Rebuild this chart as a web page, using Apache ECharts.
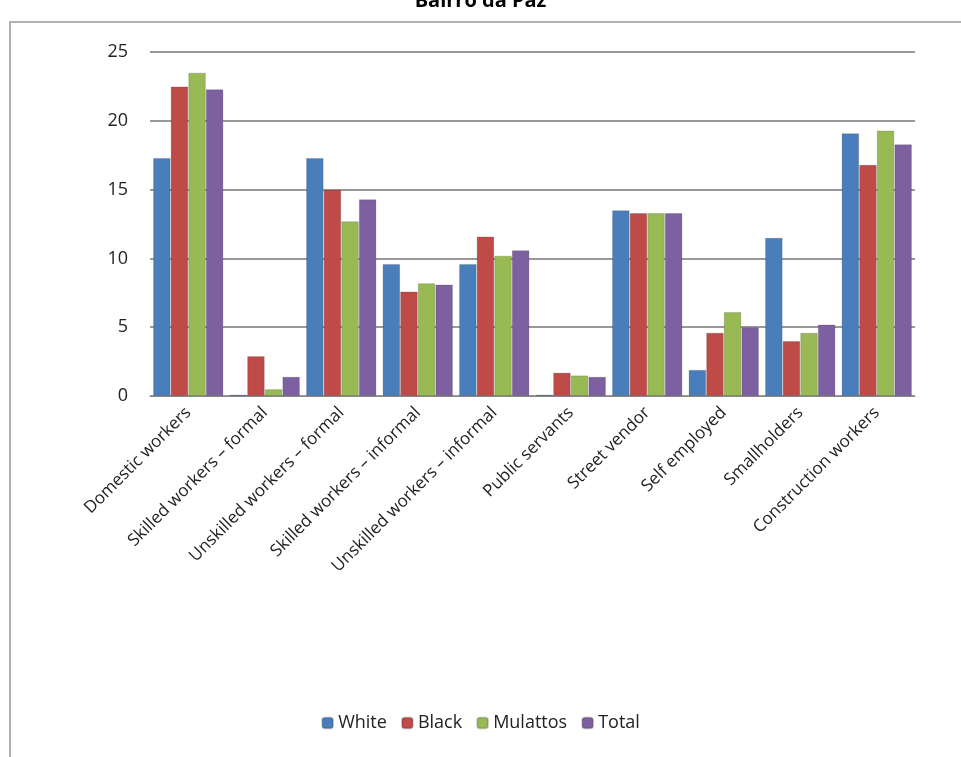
<!DOCTYPE html>
<html><head><meta charset="utf-8">
<script src="https://cdn.jsdelivr.net/npm/echarts@6/dist/echarts.min.js"></script>
<style>html,body{margin:0;padding:0;background:#fff}#main{width:961px;height:757px}</style>
</head><body><div id="main"></div>
<script>
var categories = ['Domestic workers', 'Skilled workers \u2013 formal', 'Unskilled workers \u2013 formal',
  'Skilled workers \u2013 informal', 'Unskilled workers \u2013 informal', 'Public servants',
  'Street vendor', 'Self employed', 'Smallholders', 'Construction workers'];
var white = [17.3, 0.1, 17.3, 9.6, 9.6, 0.1, 13.5, 1.9, 11.5, 19.1];
var black = [22.5, 2.9, 15.0, 7.6, 11.6, 1.7, 13.3, 4.6, 4.0, 16.8];
var mulattos = [23.5, 0.5, 12.7, 8.2, 10.2, 1.5, 13.3, 6.1, 4.6, 19.3];
var total = [22.3, 1.4, 14.3, 8.1, 10.6, 1.4, 13.3, 5.0, 5.2, 18.3];

var chart = echarts.init(document.getElementById('main'));
function s(name, data, color) {
  return { name: name, type: 'bar', data: data, barGap: '0%', barCategoryGap: '8%',
    itemStyle: { color: color, borderColor: 'rgba(0,0,0,0.15)', borderWidth: 1 } };
}
chart.setOption({
  textStyle: { fontFamily: 'Open Sans, Arial, sans-serif' },
  title: { text: 'Bairro da Paz', left: 'center', top: -14,
    textStyle: { fontSize: 20, fontWeight: 'bold', color: '#000' } },
  graphic: [{ type: 'rect', shape: { x: 10, y: 22, width: 960, height: 760 },
    style: { fill: 'none', stroke: '#999', lineWidth: 1.5 }, silent: true }],
  legend: { bottom: 20, left: 'center', itemWidth: 11, itemHeight: 11, itemGap: 14,
    textStyle: { fontSize: 18, color: '#222' }, data: ['White', 'Black', 'Mulattos', 'Total'] },
  grid: { left: 150, right: 46, top: 52, height: 344 },
  xAxis: { type: 'category', data: categories,
    axisLine: { lineStyle: { color: '#888' } }, axisTick: { show: false },
    axisLabel: { rotate: 45, interval: 0, fontSize: 17, color: '#222', margin: 14 } },
  yAxis: { type: 'value', min: 0, max: 25, interval: 5,
    axisLabel: { fontSize: 18, color: '#222', margin: 22 },
    splitLine: { lineStyle: { color: '#999', width: 2 } } },
  series: [s('White', white, '#4a7ebb'), s('Black', black, '#be4b48'),
    s('Mulattos', mulattos, '#98b954'), s('Total', total, '#7d60a0')]
});
</script></body></html>
